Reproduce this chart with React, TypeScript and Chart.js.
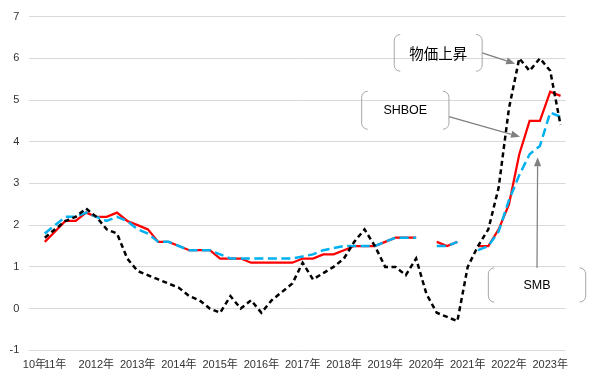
import React, { useEffect, useRef } from 'react';
import { Chart, registerables } from 'chart.js';

Chart.register(...registerables);

// Quarterly categories (only the year-start quarters carry a label)
const categories: string[] = [
  '10年', '', '11年', '', '', '',
  '2012年', '', '', '',
  '2013年', '', '', '',
  '2014年', '', '', '',
  '2015年', '', '', '',
  '2016年', '', '', '',
  '2017年', '', '', '',
  '2018年', '', '', '',
  '2019年', '', '', '',
  '2020年', '', '', '',
  '2021年', '', '', '',
  '2022年', '', '', '',
  '2023年', '',
];

const priceRise: (number | null)[] = [
  null, 1.7, 1.9, 2.1, 2.2, 2.4, 2.2, 1.9, 1.8, 1.2,
  0.9, 0.8, 0.7, 0.6, 0.5, 0.3, 0.2, 0.0, -0.1, 0.3,
  0.0, 0.2, -0.1, 0.2, 0.4, 0.6, 1.1, 0.7, 0.85, 1.0,
  1.2, 1.6, 1.9, 1.5, 1.0, 1.0, 0.8, 1.2, 0.35, -0.1,
  -0.2, -0.3, 1.0, 1.5, 1.9, 2.9, 4.8, 6.0, 5.7, 6.0,
  5.7, 4.4,
];

const shboe: (number | null)[] = [
  null, 1.6, 1.85, 2.1, 2.1, 2.3, 2.2, 2.2, 2.3, 2.1,
  2.0, 1.9, 1.6, 1.6, 1.5, 1.4, 1.4, 1.4, 1.2, 1.2,
  1.2, 1.1, 1.1, 1.1, 1.1, 1.1, 1.2, 1.2, 1.3, 1.3,
  1.4, 1.5, 1.5, 1.5, 1.6, 1.7, 1.7, 1.7, null, 1.6,
  1.5, 1.6, null, 1.5, 1.5, 1.9, 2.5, 3.7, 4.5, 4.5,
  5.2, 5.1,
];

const smb: (number | null)[] = [
  null, 1.8, 2.0, 2.2, 2.2, 2.3, 2.2, 2.1, 2.2, 2.1,
  1.9, 1.8, 1.6, 1.6, 1.5, 1.4, 1.4, 1.4, 1.3, 1.2,
  1.2, 1.2, 1.2, 1.2, 1.2, 1.2, 1.25, 1.3, 1.4, 1.45,
  1.5, 1.5, 1.5, 1.5, 1.6, 1.7, 1.7, 1.7, null, 1.5,
  1.5, 1.6, null, 1.4, 1.5, 1.85, 2.6, 3.2, 3.7, 3.9,
  4.7, 4.6,
];

const seriesNames = ['物価上昇', 'SHBOE', 'SMB'];

// Callouts, positioned in data coordinates (category index, value)
const callouts = [
  { text: '物価上昇', font: '14.5px "Noto Sans CJK JP", sans-serif', box: [34.88, 43.4, 6.57, 5.69], from: [43.4, 6.13], to: [46.6, 5.87] },
  { text: 'SHBOE', font: '12.5px "Liberation Sans", sans-serif', box: [31.72, 40.18, 5.21, 4.30], from: [40.18, 4.60], to: [47.07, 4.12] },
  { text: 'SMB', font: '12.5px "Liberation Sans", sans-serif', box: [44.0, 53.44, 0.976, 0.157], from: [48.72, 0.976], to: [48.78, 3.63] },
];

const calloutPlugin = {
  id: 'callouts',
  afterDraw(chart: any) {
    const ctx: CanvasRenderingContext2D = chart.ctx;
    const xs = chart.scales.x;
    const ys = chart.scales.y;
    ctx.save();
    for (const c of callouts) {
      // arrow
      const ax0 = xs.getPixelForValue(c.from[0]);
      const ay0 = ys.getPixelForValue(c.from[1]);
      const ax1 = xs.getPixelForValue(c.to[0]);
      const ay1 = ys.getPixelForValue(c.to[1]);
      const ang = Math.atan2(ay1 - ay0, ax1 - ax0);
      const hl = 9;
      const hw = 3.6;
      const bx = ax1 - hl * Math.cos(ang);
      const by = ay1 - hl * Math.sin(ang);
      ctx.strokeStyle = '#808080';
      ctx.fillStyle = '#808080';
      ctx.lineWidth = 1.25;
      ctx.beginPath();
      ctx.moveTo(ax0, ay0);
      ctx.lineTo(bx, by);
      ctx.stroke();
      ctx.beginPath();
      ctx.moveTo(ax1, ay1);
      ctx.lineTo(bx + hw * Math.sin(ang), by - hw * Math.cos(ang));
      ctx.lineTo(bx - hw * Math.sin(ang), by + hw * Math.cos(ang));
      ctx.closePath();
      ctx.fill();

      // bracket pair
      const x0 = xs.getPixelForValue(c.box[0]);
      const x1 = xs.getPixelForValue(c.box[1]);
      const y0 = ys.getPixelForValue(c.box[2]);
      const y1 = ys.getPixelForValue(c.box[3]);
      const r = 6;
      ctx.strokeStyle = '#a6a6a6';
      ctx.lineWidth = 1;
      ctx.beginPath();
      ctx.moveTo(x0 + r, y0);
      ctx.arcTo(x0, y0, x0, y0 + r, r);
      ctx.lineTo(x0, y1 - r);
      ctx.arcTo(x0, y1, x0 + r, y1, r);
      ctx.moveTo(x1 - r, y0);
      ctx.arcTo(x1, y0, x1, y0 + r, r);
      ctx.lineTo(x1, y1 - r);
      ctx.arcTo(x1, y1, x1 - r, y1, r);
      ctx.stroke();

      // text
      ctx.fillStyle = '#000000';
      ctx.font = c.font;
      ctx.textAlign = 'center';
      ctx.textBaseline = 'middle';
      ctx.fillText(c.text, (x0 + x1) / 2, (y0 + y1) / 2 + 0.5);
    }
    ctx.restore();
  },
};

export default function App() {
  const canvasRef = useRef<HTMLCanvasElement | null>(null);

  useEffect(() => {
    const canvas = canvasRef.current;
    if (!canvas) return;
    const fontFamily = '"Liberation Sans", "Noto Sans CJK JP", sans-serif';
    const chart = new Chart(canvas, {
      type: 'line',
      data: {
        labels: categories,
        datasets: [
          {
            label: seriesNames[0],
            data: priceRise,
            borderColor: '#000000',
            borderWidth: 2.5,
            borderDash: [5, 3.5],
            pointRadius: 0,
            fill: false,
            tension: 0,
            spanGaps: false,
          },
          {
            label: seriesNames[2],
            data: smb,
            borderColor: '#00b0f0',
            borderWidth: 2.5,
            borderDash: [9, 4.5],
            pointRadius: 0,
            fill: false,
            tension: 0,
            spanGaps: false,
          },
          {
            label: seriesNames[1],
            data: shboe,
            borderColor: '#ff0000',
            borderWidth: 2.25,
            pointRadius: 0,
            fill: false,
            tension: 0,
            spanGaps: false,
          },
        ],
      },
      options: {
        responsive: false,
        animation: false,
        devicePixelRatio: 1,
        layout: { padding: { top: 14.3, right: 26.3, left: 0, bottom: 0 } },
        plugins: {
          legend: { display: false },
          tooltip: { enabled: false },
        },
        scales: {
          x: {
            type: 'category',
            offset: true,
            grid: { display: false, drawTicks: false },
            border: { display: false },
            ticks: {
              autoSkip: false,
              maxRotation: 0,
              minRotation: 0,
              padding: 8,
              color: '#333333',
              font: { family: fontFamily, size: 11 },
            },
            afterFit(scale: any) {
              scale.height = 382 - 350.3;
            },
          },
          y: {
            min: -1,
            max: 7,
            ticks: {
              stepSize: 1,
              padding: 10,
              color: '#333333',
              font: { family: fontFamily, size: 11 },
            },
            grid: { color: '#d9d9d9', lineWidth: 1, drawTicks: false },
            border: { display: false },
            afterFit(scale: any) {
              scale.width = 29.3;
            },
          },
        },
      },
      plugins: [calloutPlugin],
    });
    return () => chart.destroy();
  }, []);

  return (
    <div style={{ position: 'absolute', left: 0, top: 0, width: 592, height: 382, background: '#ffffff' }}>
      <canvas ref={canvasRef} width={592} height={382} style={{ display: 'block' }} />
    </div>
  );
}
